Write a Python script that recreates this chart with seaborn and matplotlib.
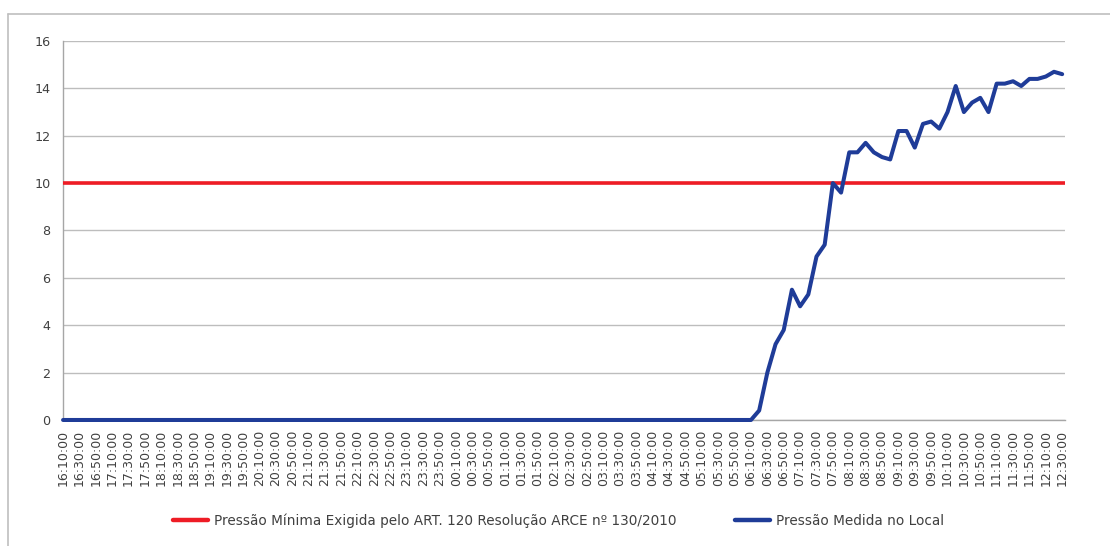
import matplotlib
matplotlib.use("Agg")
import matplotlib.pyplot as plt
from matplotlib.lines import Line2D
import numpy as np
import pandas as pd
import seaborn as sns

# ---------------- data ----------------
tick_labels = [
    "16:10:00", "16:30:00", "16:50:00", "17:10:00", "17:30:00", "17:50:00",
    "18:10:00", "18:30:00", "18:50:00", "19:10:00", "19:30:00", "19:50:00",
    "20:10:00", "20:30:00", "20:50:00", "21:10:00", "21:30:00", "21:50:00",
    "22:10:00", "22:30:00", "22:50:00", "23:10:00", "23:30:00", "23:50:00",
    "00:10:00", "00:30:00", "00:50:00", "01:10:00", "01:30:00", "01:50:00",
    "02:10:00", "02:30:00", "02:50:00", "03:10:00", "03:30:00", "03:50:00",
    "04:10:00", "04:30:00", "04:50:00", "05:10:00", "05:30:00", "05:50:00",
    "06:10:00", "06:30:00", "06:50:00", "07:10:00", "07:30:00", "07:50:00",
    "08:10:00", "08:30:00", "08:50:00", "09:10:00", "09:30:00", "09:50:00",
    "10:10:00", "10:30:00", "10:50:00", "11:10:00", "11:30:00", "11:50:00",
    "12:10:00", "12:30:00",
]

# readings every 10 minutes: flat at zero overnight, then the rise
measured_zero = [0.0] * 84
measured_rise = [
    0.0, 0.4, 2.0, 3.2, 3.8, 5.5, 4.8, 5.3, 6.9, 7.4,
    10.0, 9.6, 11.3, 11.3, 11.7, 11.3, 11.1, 11.0, 12.2, 12.2,
    11.5, 12.5, 12.6, 12.3, 13.0, 14.1, 13.0, 13.4, 13.6, 13.0,
    14.2, 14.2, 14.3, 14.1, 14.4, 14.4, 14.5, 14.7, 14.6,
]
measured = measured_zero + measured_rise

min_pressure = 10
y_ticks = [0, 2, 4, 6, 8, 10, 12, 14, 16]

label_min = "Pressão Mínima Exigida pelo ART. 120 Resolução ARCE nº 130/2010"
label_meas = "Pressão Medida no Local"

# ---------------- plot ----------------
sns.set_theme(style="white")
plt.rcParams["font.family"] = ["DejaVu Sans"]

fig = plt.figure(figsize=(11.10, 5.46), dpi=100)
ax = fig.add_axes([0.0568, 0.2308, 0.9027, 0.6941])

df = pd.DataFrame({"idx": np.arange(len(measured)), "p": measured})

ax.axhline(min_pressure, color="#EE1C25", lw=2.6, zorder=3)
sns.lineplot(data=df, x="idx", y="p", ax=ax, color="#1F3C98", lw=2.9,
             zorder=4, clip_on=False)

n = len(measured)
ax.set_xlim(0, n - 1 + 0.35)
ax.set_ylim(0, 16)
ax.set_yticks(y_ticks)
ax.set_yticklabels([str(v) for v in y_ticks])
ax.set_xticks(np.arange(n))
xl = []
j = 0
for i in range(n):
    if i % 2 == 0 and j < len(tick_labels):
        xl.append(tick_labels[j]); j += 1
    else:
        xl.append("")
ax.set_xticklabels(xl, rotation=90, fontsize=9.0, color="#404040")
ax.set_xlabel("")
ax.set_ylabel("")

ax.yaxis.grid(True, color="#BDBDBD", lw=1.0)
ax.set_axisbelow(True)
for s in ["top", "right"]:
    ax.spines[s].set_visible(False)
for s in ["left", "bottom"]:
    ax.spines[s].set_color("#A6A6A6")
    ax.spines[s].set_linewidth(1.0)

ax.tick_params(axis="x", direction="out", length=4, width=0.8, color="#A6A6A6", pad=3)
ax.tick_params(axis="y", direction="out", length=5, width=0.8, color="#A6A6A6",
               labelsize=9.2, labelcolor="#404040", pad=4)

handles = [Line2D([0], [0], color="#EE1C25", lw=3.2),
           Line2D([0], [0], color="#1F3C98", lw=3.2)]
fig.legend(handles, [label_min, label_meas], loc="center",
           bbox_to_anchor=(0.503, 0.047), ncol=2, frameon=False,
           fontsize=9.8, handlelength=2.6, columnspacing=4.3,
           handletextpad=0.4, labelcolor="#404040")

# chart border (top and left visible)
fig.add_artist(Line2D([8 / 1110, 1.0], [1 - 14 / 546, 1 - 14 / 546],
                      color="#BFBFBF", lw=1.2, transform=fig.transFigure))
fig.add_artist(Line2D([8 / 1110, 8 / 1110], [0.0, 1 - 14 / 546],
                      color="#BFBFBF", lw=1.2, transform=fig.transFigure))

fig.savefig("out.png", dpi=100, facecolor="white")
